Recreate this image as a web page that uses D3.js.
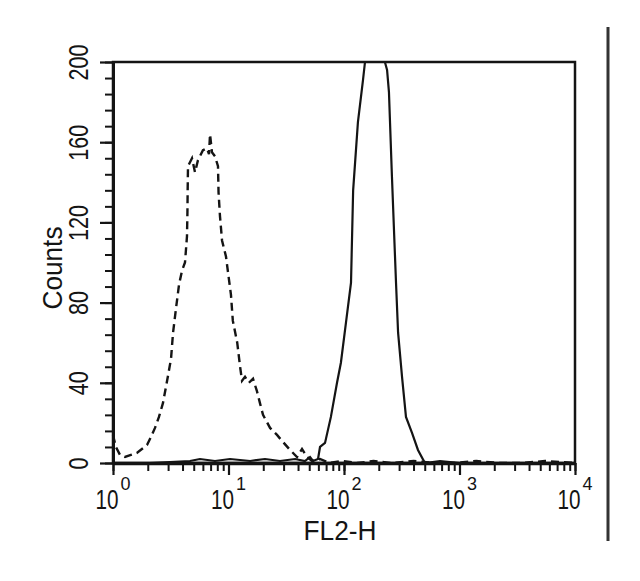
<!DOCTYPE html>
<html>
<head>
<meta charset="utf-8">
<script src="https://cdn.jsdelivr.net/npm/d3@7"></script>
<style>
  body { margin: 0; background: #fff; }
  svg { display: block; }
</style>
</head>
<body>
<svg></svg>
<script>
// isotype control (dashed) histogram, FL2 channel vs counts
var isotypeFL2 = [1.00, 1.06, 1.15, 1.27, 1.43, 1.61, 1.78, 1.97, 2.13, 2.31, 2.50, 2.71, 2.94, 3.18, 3.31, 3.51,
  3.73, 3.96, 4.20, 4.37, 4.41, 4.43, 4.46, 4.83, 5.13, 5.44, 6.01, 6.51, 6.78, 6.92, 7.19, 7.64, 8.11, 8.20,
  8.44, 8.79, 9.51, 9.91, 10.5, 10.9, 11.9, 12.6, 13.1, 13.9, 15.0, 16.3, 17.6, 18.7, 19.9, 22.9, 26.3, 29.6,
  34.1, 39.2, 43.3, 47.8, 52.9, 62, 75, 95, 130, 180, 260, 400, 600, 900, 1400, 2200, 3500, 5500, 10000];
var isotypeCounts = [14, 8, 4, 3, 4, 5, 7, 9, 13, 17.5, 23, 30, 41, 52, 65, 77,
  89, 96, 100, 113, 125, 136, 148, 152, 145, 151, 156, 157, 154, 164, 155, 153, 148, 135,
  123, 111, 103, 95, 84, 71, 60, 48, 41, 43, 40, 42, 36, 30, 24, 17.5, 14, 10.5,
  6.5, 3, 7, 3, 1, 2, 0, 1, 0, 1, 0, 1, 0, 0, 1, 0, 0, 1, 0];

// stained sample (solid) histogram
var stainedFL2 = [1, 2.09, 4.64, 5.66, 7.64, 10.3, 15.4, 20.7, 27.9, 37.7, 45.9, 50.8, 53.9, 59.6, 62.0, 68.5,
  77, 87, 94, 104, 115, 120, 132, 146, 152, 226, 236, 245, 260, 282, 294, 318, 344, 388, 437, 502, 678, 1010, 10000];
var stainedCounts = [0, 0, 1, 2, 1, 2, 1, 2, 1, 2, 1, 3, 1, 2, 8, 10,
  23, 40, 50, 70, 90, 136, 170, 191, 200, 200, 196, 185, 143, 90, 65, 43, 23, 15, 6.5, 0, 1, 0, 0];

var yTickValues = [0, 40, 80, 120, 160, 200];
var xTickValues = [1, 10, 100, 1000, 10000];
var xTickPowers = ["0", "1", "2", "3", "4"];
var xTitle = "FL2-H";
var yTitle = "Counts";

var width = 640;
var height = 581;
var font = "'Liberation Sans', Arial, Helvetica, sans-serif";
var ink = "#141414";

var svg = d3.select("svg")
            .attr("width", width)
            .attr("height", height);

var plotLeft = 113, plotRight = 575, plotTop = 62, plotBot = 463;

var xScale = d3.scaleLog()
               .domain([1, 10000])
               .range([plotLeft, plotRight]);
var yScale = d3.scaleLinear()
               .domain([0, 200])
               .range([plotBot, plotTop]);

// plot frame
svg.append("rect")
   .attr("x", plotLeft)
   .attr("y", plotTop)
   .attr("width", plotRight - plotLeft)
   .attr("height", plotBot - plotTop)
   .attr("fill", "none")
   .attr("stroke", ink)
   .attr("stroke-width", 2.5);

var line = d3.line()
             .x(function(d){ return xScale(d[0]); })
             .y(function(d){ return yScale(d[1]); });

svg.append("path")
   .datum(d3.zip(isotypeFL2, isotypeCounts))
   .attr("d", line)
   .attr("fill", "none")
   .attr("stroke", ink)
   .attr("stroke-width", 2.4)
   .attr("stroke-dasharray", "8,5");

svg.append("path")
   .datum(d3.zip(stainedFL2, stainedCounts))
   .attr("d", line)
   .attr("fill", "none")
   .attr("stroke", ink)
   .attr("stroke-width", 2.2);

// y axis: minor ticks every 8 counts, major every 40
var yMinor = d3.axisLeft(yScale)
               .tickValues(d3.range(0, 201, 8))
               .tickSize(8)
               .tickSizeOuter(0)
               .tickFormat("");
var gyMinor = svg.append("g")
                 .attr("transform", "translate(" + plotLeft + ",0)")
                 .call(yMinor);
gyMinor.select(".domain").remove();
gyMinor.selectAll("line").attr("stroke", ink).attr("stroke-width", 2);

var yMajor = d3.axisLeft(yScale)
               .tickValues(yTickValues)
               .tickSize(13)
               .tickSizeOuter(0);
var gy = svg.append("g")
            .attr("transform", "translate(" + plotLeft + ",0)")
            .call(yMajor);
gy.select(".domain").attr("stroke", ink).attr("stroke-width", 3);
gy.selectAll("line").attr("stroke", ink).attr("stroke-width", 2.2);
gy.selectAll("text")
  .attr("transform", "rotate(-90)")
  .attr("x", 0)
  .attr("y", -25)
  .attr("dy", null)
  .attr("text-anchor", "middle")
  .attr("font-family", font)
  .attr("font-size", 27)
  .attr("fill", ink)
  .attr("textLength", function(d){ return String(d).length * 12; })
  .attr("lengthAdjust", "spacingAndGlyphs");

// x axis: log minor ticks, decade major ticks with 10^n labels
var xMinor = d3.axisBottom(xScale)
               .tickValues(xScale.ticks())
               .tickSize(8)
               .tickSizeOuter(0)
               .tickFormat("");
var gxMinor = svg.append("g")
                 .attr("transform", "translate(0," + plotBot + ")")
                 .call(xMinor);
gxMinor.select(".domain").remove();
gxMinor.selectAll("line").attr("stroke", ink).attr("stroke-width", 2);

var xMajor = d3.axisBottom(xScale)
               .tickValues(xTickValues)
               .tickSize(12)
               .tickSizeOuter(0)
               .tickFormat("");
var gx = svg.append("g")
            .attr("transform", "translate(0," + plotBot + ")")
            .call(xMajor);
gx.select(".domain").attr("stroke", ink).attr("stroke-width", 3.5);
gx.selectAll("line").attr("stroke", ink).attr("stroke-width", 2.2);

// "10" squeezed horizontally, exponent as its own small text
gx.selectAll(".tick").each(function(d, i){
  var t = d3.select(this);
  t.append("text")
   .text("10")
   .attr("transform", "translate(5,46) scale(0.74,1)")
   .attr("text-anchor", "end")
   .attr("font-family", font)
   .attr("font-size", 28)
   .attr("fill", ink);
  t.append("text")
   .text(xTickPowers[i])
   .attr("x", 7)
   .attr("y", 27)
   .attr("text-anchor", "start")
   .attr("font-family", font)
   .attr("font-size", 18)
   .attr("fill", ink);
});

// axis titles
svg.append("text")
   .text(xTitle)
   .attr("x", 340)
   .attr("y", 540)
   .attr("text-anchor", "middle")
   .attr("font-family", font)
   .attr("font-size", 27)
   .attr("fill", ink)
   .attr("textLength", 73)
   .attr("lengthAdjust", "spacingAndGlyphs");

svg.append("text")
   .text(yTitle)
   .attr("transform", "translate(62,268) rotate(-90)")
   .attr("text-anchor", "middle")
   .attr("font-family", font)
   .attr("font-size", 28)
   .attr("fill", ink)
   .attr("textLength", 83)
   .attr("lengthAdjust", "spacingAndGlyphs");

// figure border line on the right
svg.append("line")
   .attr("x1", 608).attr("x2", 608)
   .attr("y1", 27).attr("y2", 541)
   .attr("stroke", "#333")
   .attr("stroke-width", 3);
</script>
</body>
</html>
